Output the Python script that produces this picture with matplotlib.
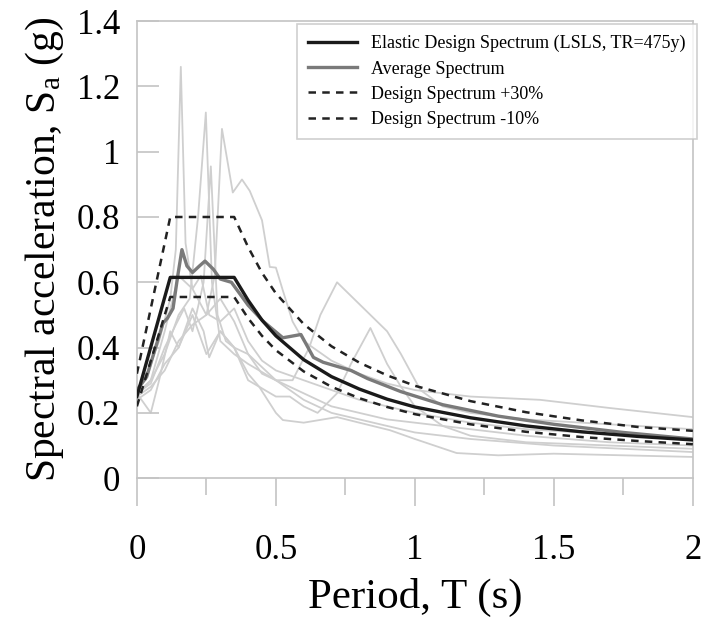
import matplotlib.pyplot as plt
from matplotlib.ticker import MultipleLocator

plt.rcParams["font.family"] = ["Liberation Serif", "DejaVu Serif"]
plt.rcParams["mathtext.fontset"] = "custom"
plt.rcParams["mathtext.rm"] = "Liberation Serif"
plt.rcParams["mathtext.it"] = "Liberation Serif"

# --- individual record spectra (light grey) ---
rec1_T = [0, 0.04, 0.08, 0.12, 0.14, 0.158, 0.175, 0.2, 0.23, 0.26, 0.3, 0.35, 0.4, 0.45,
          0.5, 0.6, 0.7, 0.8, 0.9, 1.0, 1.2, 1.4, 1.6, 1.8, 2.0]
rec1_Sa = [0.27, 0.33, 0.42, 0.55, 0.7, 1.26, 0.72, 0.58, 0.62, 0.5, 0.48, 0.52, 0.42, 0.36,
           0.33, 0.3, 0.27, 0.24, 0.22, 0.2, 0.17, 0.15, 0.14, 0.13, 0.12]

rec2_T = [0, 0.05, 0.1, 0.15, 0.19, 0.22, 0.248, 0.27, 0.3, 0.35, 0.4, 0.5, 0.6, 0.7, 0.8,
          0.9, 1.0, 1.2, 1.4, 1.7, 2.0]
rec2_Sa = [0.26, 0.3, 0.38, 0.5, 0.55, 0.8, 1.12, 0.6, 0.42, 0.38, 0.35, 0.3, 0.26, 0.22, 0.2,
           0.18, 0.17, 0.15, 0.13, 0.11, 0.1]

rec3_T = [0, 0.05, 0.1, 0.15, 0.2, 0.25, 0.28, 0.306, 0.345, 0.378, 0.406, 0.45, 0.478, 0.5,
          0.525, 0.56, 0.6, 0.7, 0.8, 0.9, 1.0, 1.2, 1.45, 1.7, 2.0]
rec3_Sa = [0.25, 0.28, 0.33, 0.42, 0.47, 0.5, 0.62, 1.07, 0.875, 0.915, 0.88, 0.79, 0.647, 0.645,
           0.575, 0.48, 0.42, 0.36, 0.32, 0.29, 0.27, 0.25, 0.24, 0.215, 0.187]

rec4_T = [0, 0.05, 0.1, 0.14, 0.17, 0.2, 0.24, 0.266, 0.29, 0.32, 0.35, 0.4, 0.5, 0.6, 0.7,
          0.8, 0.9, 1.0, 1.2, 1.5, 2.0]
rec4_Sa = [0.26, 0.29, 0.4, 0.47, 0.52, 0.45, 0.6, 0.955, 0.5, 0.42, 0.4, 0.38, 0.3, 0.24, 0.2,
           0.18, 0.16, 0.14, 0.12, 0.1, 0.08]

rec5_T = [0, 0.05, 0.1, 0.15, 0.2, 0.25, 0.3, 0.35, 0.4, 0.45, 0.5, 0.56, 0.62, 0.66, 0.72,
          0.81, 0.9, 0.95, 1.02, 1.1, 1.2, 1.4, 1.6, 1.8, 2.0]
rec5_Sa = [0.25, 0.3, 0.45, 0.62, 0.58, 0.5, 0.55, 0.48, 0.38, 0.32, 0.3, 0.3, 0.4, 0.5, 0.6,
           0.525, 0.45, 0.38, 0.27, 0.22, 0.2, 0.18, 0.17, 0.16, 0.15]

rec6_T = [0, 0.05, 0.1, 0.15, 0.2, 0.25, 0.3, 0.35, 0.4, 0.44, 0.5, 0.55, 0.6, 0.65, 0.72,
          0.77, 0.84, 0.9, 0.95, 1.0, 1.1, 1.2, 1.4, 1.7, 2.0]
rec6_Sa = [0.24, 0.27, 0.35, 0.4, 0.5, 0.38, 0.45, 0.4, 0.32, 0.28, 0.25, 0.25, 0.22, 0.2, 0.26,
           0.35, 0.46, 0.35, 0.28, 0.22, 0.16, 0.13, 0.11, 0.1, 0.09]

rec7_T = [0, 0.05, 0.08, 0.12, 0.15, 0.2, 0.24, 0.26, 0.3, 0.35, 0.4, 0.44, 0.5, 0.525, 0.6,
          0.72, 0.8, 0.91, 1.0, 1.15, 1.3, 1.5, 1.75, 2.0]
rec7_Sa = [0.26, 0.2, 0.3, 0.45, 0.4, 0.52, 0.45, 0.37, 0.45, 0.4, 0.3, 0.28, 0.2, 0.178, 0.17,
           0.187, 0.17, 0.147, 0.12, 0.077, 0.07, 0.075, 0.07, 0.065]

records = [(rec1_T, rec1_Sa), (rec2_T, rec2_Sa), (rec3_T, rec3_Sa), (rec4_T, rec4_Sa),
           (rec5_T, rec5_Sa), (rec6_T, rec6_Sa), (rec7_T, rec7_Sa)]

# --- average spectrum ---
avg_T = [0, 0.035, 0.06, 0.094, 0.11, 0.13, 0.147, 0.162, 0.18, 0.2, 0.225, 0.245, 0.275, 0.3,
         0.34, 0.4, 0.455, 0.525, 0.59, 0.635, 0.67, 0.77, 0.83, 0.95, 1.1, 1.3, 1.5, 1.75, 2.0]
avg_Sa = [0.27, 0.31, 0.38, 0.475, 0.49, 0.52, 0.62, 0.70, 0.65, 0.63, 0.65, 0.665, 0.64, 0.61,
          0.6, 0.53, 0.48, 0.43, 0.44, 0.37, 0.355, 0.33, 0.305, 0.265, 0.225, 0.19, 0.165, 0.14, 0.12]

# --- design spectra ---
des_T = [0, 0.12, 0.35, 0.4, 0.45, 0.5, 0.6, 0.7, 0.8, 0.9, 1.0, 1.2, 1.4, 1.6, 1.8, 2.0]
des_Sa = [0.25, 0.615, 0.615, 0.545, 0.484, 0.436, 0.363, 0.311, 0.273, 0.242, 0.218,
          0.185, 0.16, 0.142, 0.128, 0.117]
up_Sa = [0.32, 0.80, 0.80, 0.708, 0.629, 0.566, 0.472, 0.404, 0.354, 0.315, 0.283,
         0.236, 0.202, 0.177, 0.157, 0.145]
lo_Sa = [0.22, 0.555, 0.555, 0.49, 0.436, 0.392, 0.327, 0.28, 0.245, 0.218, 0.196,
         0.165, 0.142, 0.126, 0.114, 0.104]

fig = plt.figure(figsize=(7.02, 6.21), dpi=100)
ax = fig.add_axes([0.195, 0.230, 0.792, 0.736])

for T, Sa in records:
    ax.plot(T, Sa, color="#cfcfcf", lw=1.3, zorder=1)

ax.plot(des_T, des_Sa, color="#1a1a1a", lw=2.4, zorder=4,
        label="Elastic Design Spectrum (LSLS, TR=475y)")
ax.plot(avg_T, avg_Sa, color="#7a7a7a", lw=2.4, zorder=3, label="Average Spectrum")
ax.plot(des_T, up_Sa, color="#222222", lw=1.8, ls=(0, (3, 2.5)), zorder=5,
        label="Design Spectrum +30%")
ax.plot(des_T, lo_Sa, color="#222222", lw=1.8, ls=(0, (3, 2.5)), zorder=5,
        label="Design Spectrum -10%")

ax.set_xlim(0, 2)
ax.set_ylim(0, 1.4)
ax.xaxis.set_minor_locator(MultipleLocator(0.25))
ax.set_yticks([0, 0.2, 0.4, 0.6, 0.8, 1.0, 1.2, 1.4])
ax.set_yticklabels(["0", "0.2", "0.4", "0.6", "0.8", "1", "1.2", "1.4"])
ax.set_xticks([0, 0.5, 1, 1.5, 2])
ax.set_xticklabels(["0", "0.5", "1", "1.5", "2"])

for s in ax.spines.values():
    s.set_color("#c4c4c4")
    s.set_linewidth(1.2)
ax.tick_params(axis="x", which="major", direction="out", length=20, width=1.2,
               color="#c4c4c4", labelsize=25, pad=20)
ax.tick_params(axis="x", which="minor", direction="out", length=12, width=1.2,
               color="#c4c4c4")
ax.tick_params(axis="y", which="major", direction="in", length=16, width=1.2,
               color="#c4c4c4", labelsize=25, pad=12)

ax.set_xlabel("Period, T (s)", fontsize=31, labelpad=8)
ax.set_ylabel("Spectral acceleration, S$_{\\mathrm{a}}$ (g)", fontsize=30, labelpad=8)

leg = ax.legend(loc="upper right", bbox_to_anchor=(1.007, 0.993), borderaxespad=0,
                fontsize=13, frameon=True, fancybox=False, handlelength=2.7,
                borderpad=0.6, labelspacing=0.45, handletextpad=0.8)
leg.get_frame().set_edgecolor("#c4c4c4")
leg.get_frame().set_linewidth(1.2)

fig.savefig("out.png", dpi=100)
